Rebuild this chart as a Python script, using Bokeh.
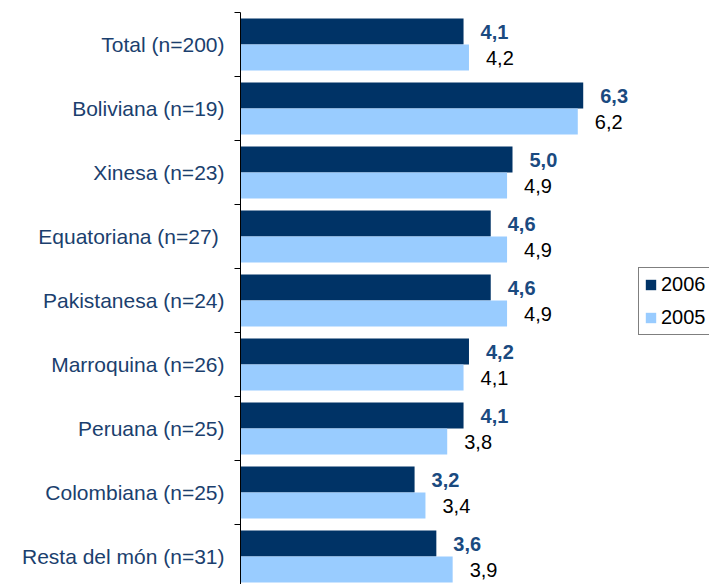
from bokeh.plotting import figure
from bokeh.models import Range1d, FixedTicker, ColumnDataSource, Legend, LegendItem, LabelSet
from bokeh.core.properties import value
from bokeh.embed import file_html
from bokeh.resources import INLINE

categories = ["Total (n=200)", "Boliviana (n=19)", "Xinesa (n=23)", "Equatoriana  (n=27)",
              "Pakistanesa (n=24)", "Marroquina (n=26)", "Peruana (n=25)",
              "Colombiana (n=25)", "Resta del món (n=31)"]
v2006 = [4.1, 6.3, 5.0, 4.6, 4.6, 4.2, 4.1, 3.2, 3.6]
v2005 = [4.2, 6.2, 4.9, 4.9, 4.9, 4.1, 3.8, 3.4, 3.9]
series = ["2006", "2005"]

def fmt(v):
    return f"{v:.1f}".replace(".", ",")

idx = list(range(len(categories)))
bh = 26 / 64
src06 = ColumnDataSource(dict(y=[i - bh / 2 for i in idx], v=v2006, t=[fmt(v) for v in v2006]))
src05 = ColumnDataSource(dict(y=[i + bh / 2 for i in idx], v=v2005, t=[fmt(v) for v in v2005]))

W, H = 709, 584
frame_left = 240
frame_top = 12
px_per_unit = 54.4
p = figure(width=W, height=H, output_backend="svg", toolbar_location=None,
           x_range=Range1d(0, (W - frame_left) / px_per_unit),
           y_range=Range1d(-0.5 + (H - frame_top) / 64, -0.5),
           min_border_left=frame_left, min_border_right=0, min_border_top=frame_top,
           min_border_bottom=0)
p.outline_line_color = None
p.xgrid.visible = False
p.ygrid.visible = False
p.xaxis.visible = False

r06 = p.hbar(y="y", right="v", left=0, height=bh, source=src06, fill_color="#003366", line_color=None)
r05 = p.hbar(y="y", right="v", left=0, height=bh, source=src05, fill_color="#99CCFF", line_color=None)

ax = p.yaxis[0]
ax.ticker = FixedTicker(ticks=idx, minor_ticks=[i - 0.5 for i in range(len(categories) + 1)])
ax.major_label_overrides = {i: c for i, c in zip(idx, categories)}
ax.major_tick_line_color = None
ax.major_tick_out = 0
ax.major_tick_in = 0
ax.minor_tick_out = 6
ax.minor_tick_in = 0
ax.minor_tick_line_color = "#000000"
ax.axis_line_color = "#000000"
ax.major_label_standoff = 10
ax.major_label_text_font = "Liberation Sans"
ax.major_label_text_font_size = "21px"
ax.major_label_text_color = "#1B3F6E"

lab06 = LabelSet(x="v", y="y", text="t", source=src06, x_offset=17, text_baseline="middle",
                 text_font=value("Liberation Sans"), text_font_size=value("20px"),
                 text_font_style="bold", text_color="#1A4A80")
lab05 = LabelSet(x="v", y="y", text="t", source=src05, x_offset=17, text_baseline="middle",
                 text_font=value("Liberation Sans"), text_font_size=value("20px"),
                 text_color="#000000")
p.add_layout(lab06)
p.add_layout(lab05)

legend = Legend(items=[LegendItem(label=series[0], renderers=[r06]),
                       LegendItem(label=series[1], renderers=[r05])],
                location=(398, 249), orientation="vertical",
                glyph_width=13, glyph_height=13, label_height=20, spacing=10, padding=5,
                label_standoff=4, margin=0,
                label_text_font="Liberation Sans", label_text_font_size="20px",
                label_text_color="#000000",
                border_line_color="#000000", border_line_width=1,
                background_fill_color="#FFFFFF", background_fill_alpha=1)
p.add_layout(legend, "center")

open("out.html", "w").write(file_html(p, INLINE))
